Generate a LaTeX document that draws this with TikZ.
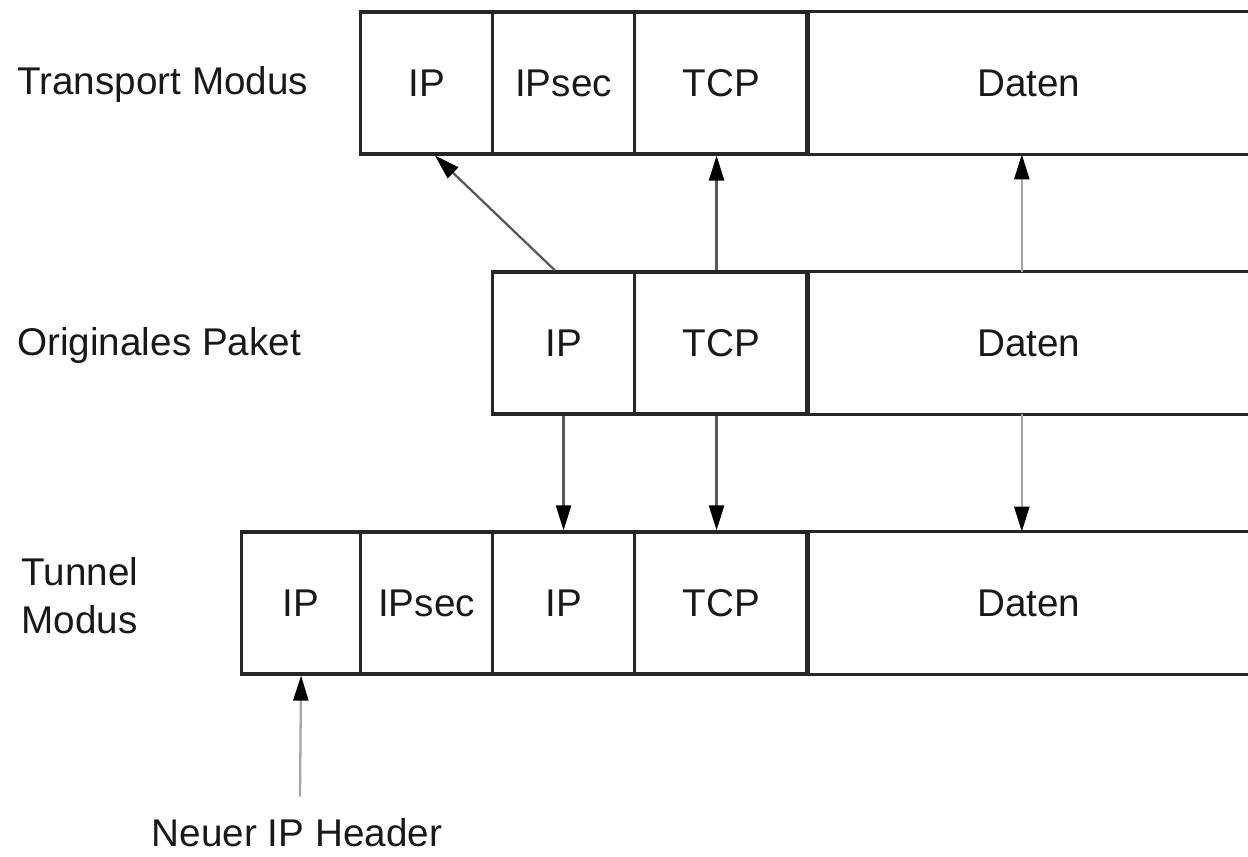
\documentclass[tikz,border=0pt]{standalone}
\usepackage{fontspec}
\setmainfont{Liberation Sans}
\usetikzlibrary{arrows.meta,calc}
\begin{document}
\begin{tikzpicture}[x=0.02cm,y=-0.02cm,
  every node/.style={font=\fontsize{22}{27.3}\selectfont, text=black!90},
  cell/.style={draw=black!85, line width=1.8pt, minimum height=2.84cm, inner sep=0pt, anchor=west},
  opencell/.style={draw=none, minimum height=2.84cm, inner sep=0pt, anchor=west},
  openbox/.style={draw=black!85, line width=1.8pt},
  lab/.style={anchor=west, align=left, inner sep=0pt},
  arr/.style={draw=black!65, line width=1.3pt, -{Triangle[length=0.5cm,width=0.3cm,fill=black,color=black]}},
  arrlight/.style={arr, draw=black!35},
]
\clip (0,0) rectangle (1248,856);
% Row 1: Transport Modus
\node[lab] (ltr) at (17,85) {Transport Modus};
\node[opencell, minimum width=8.86cm] (D1) at (807,83) {Daten};
\node[cell, minimum width=3.48cm] (T1) at (633,83) {TCP};
\node[cell, minimum width=2.84cm] (S1) at (491,83) {IPsec};
\node[cell, minimum width=2.64cm] (I1) at (359,83) {IP};
\draw[openbox] (D1.north east) -- (D1.north west) -- (D1.south west) -- (D1.south east);
% Row 2: Originales Paket
\node[lab] (lor) at (17,345) {Originales Paket};
\node[opencell, minimum width=8.86cm] (D2) at (807,343) {Daten};
\node[cell, minimum width=3.48cm] (T2) at (633,343) {TCP};
\node[cell, minimum width=2.84cm] (I2) at (491,343) {IP};
\draw[openbox] (D2.north east) -- (D2.north west) -- (D2.south west) -- (D2.south east);
% Row 3: Tunnel Modus
\node[lab] (ltu) at (21,596) {Tunnel\\Modus};
\node[opencell, minimum width=8.86cm] (D3) at (807,603) {Daten};
\node[cell, minimum width=3.48cm] (T3) at (633,603) {TCP};
\node[cell, minimum width=2.84cm] (J3) at (491,603) {IP};
\node[cell, minimum width=2.64cm] (S3) at (359,603) {IPsec};
\node[cell, minimum width=2.38cm] (I3) at (240,603) {IP};
\draw[openbox] (D3.north east) -- (D3.north west) -- (D3.south west) -- (D3.south east);
% New header label
\node (nh) at (297,833) {Neuer IP Header};
% Arrows
\draw[arr] ($(I2.north west)+(64,0)$) -- ($(I1.south west)+(76,0)$);
\draw[arr] ($(T2.north)+(-5,0)$) -- ($(T1.south)+(-5,0)$);
\draw[arrlight] ($(D2.north)+(-7,0)$) -- ($(D1.south)+(-7,0)$);
\draw[arr] (I2.south) -- (J3.north);
\draw[arr] ($(T2.south)+(-5,0)$) -- ($(T3.north)+(-5,0)$);
\draw[arrlight] ($(D2.south)+(-7,0)$) -- ($(D3.north)+(-7,0)$);
\draw[arrlight] ($(nh.north)+(3,-16)$) -- (I3.south);
\end{tikzpicture}
\end{document}
